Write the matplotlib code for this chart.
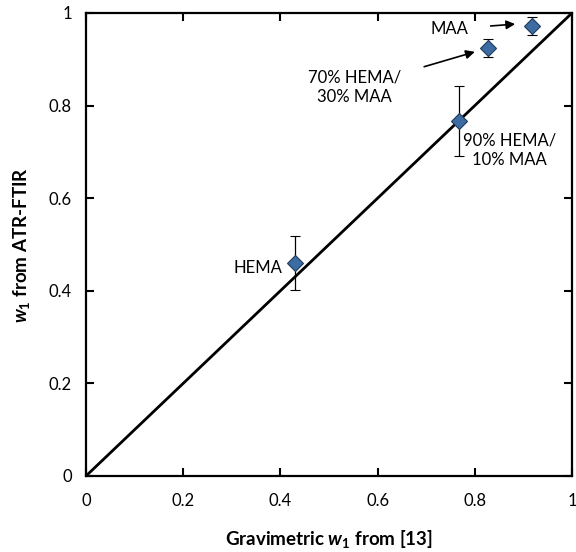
import matplotlib.pyplot as plt

plt.rcParams['font.family'] = ['Lato', 'DejaVu Sans']
plt.rcParams['mathtext.fontset'] = 'custom'
plt.rcParams['mathtext.rm'] = 'Lato:bold'
plt.rcParams['mathtext.it'] = 'Lato:italic:bold'

# data
labels = ['HEMA', '90% HEMA/\n10% MAA', '70% HEMA/\n30% MAA', 'MAA']
w_grav = [0.43, 0.767, 0.827, 0.918]
w_ftir = [0.46, 0.767, 0.924, 0.972]
w_err = [0.058, 0.076, 0.02, 0.019]

fig = plt.figure(figsize=(5.76, 5.52), dpi=100)
ax = fig.add_axes([0.1493, 0.1377, 0.8438, 0.8388])

# parity line
ax.plot([0, 1], [0, 1], color='black', lw=2.0, zorder=2)

ax.errorbar(w_grav, w_ftir, yerr=w_err, fmt='D', ms=8.5,
            mfc='#3D6CA3', mec='#1F3B5C', mew=0.8,
            ecolor='black', elinewidth=0.9, capsize=3.5, capthick=0.9, zorder=3)

# point labels
ax.text(w_grav[0] - 0.025, w_ftir[0] - 0.01, labels[0], ha='right', va='center', fontsize=12)
ax.text(0.872, 0.704, labels[1], ha='center', va='center', fontsize=12, linespacing=1.3)
ax.annotate(labels[2], xy=(0.80, 0.916), xytext=(0.553, 0.84),
            ha='center', va='center', fontsize=12, linespacing=1.3,
            arrowprops=dict(arrowstyle='-|>', color='black', lw=1.2,
                            mutation_scale=13, shrinkA=15, shrinkB=0))
ax.annotate(labels[3], xy=(0.883, 0.976), xytext=(0.748, 0.965),
            ha='center', va='center', fontsize=12,
            arrowprops=dict(arrowstyle='-|>', color='black', lw=1.2,
                            mutation_scale=13, shrinkA=14, shrinkB=0))

ax.set_xlim(0, 1)
ax.set_ylim(0, 1)
ax.set_xticks([0, 0.2, 0.4, 0.6, 0.8, 1])
ax.set_yticks([0, 0.2, 0.4, 0.6, 0.8, 1])
ax.set_xticklabels(['0', '0.2', '0.4', '0.6', '0.8', '1'])
ax.set_yticklabels(['0', '0.2', '0.4', '0.6', '0.8', '1'])
ax.tick_params(direction='in', length=6, width=1.5, top=True, right=True, labelsize=12)
ax.tick_params(axis='x', pad=12)
ax.tick_params(axis='y', pad=10)
for s in ax.spines.values():
    s.set_linewidth(1.6)

ax.set_xlabel(r'Gravimetric $w_1$ from [13]', fontsize=13.5, fontweight='bold', labelpad=14)
ax.set_ylabel(r'$w_1$ from ATR-FTIR', fontsize=13.5, fontweight='bold', labelpad=12)

fig.savefig('out.png', dpi=100)
